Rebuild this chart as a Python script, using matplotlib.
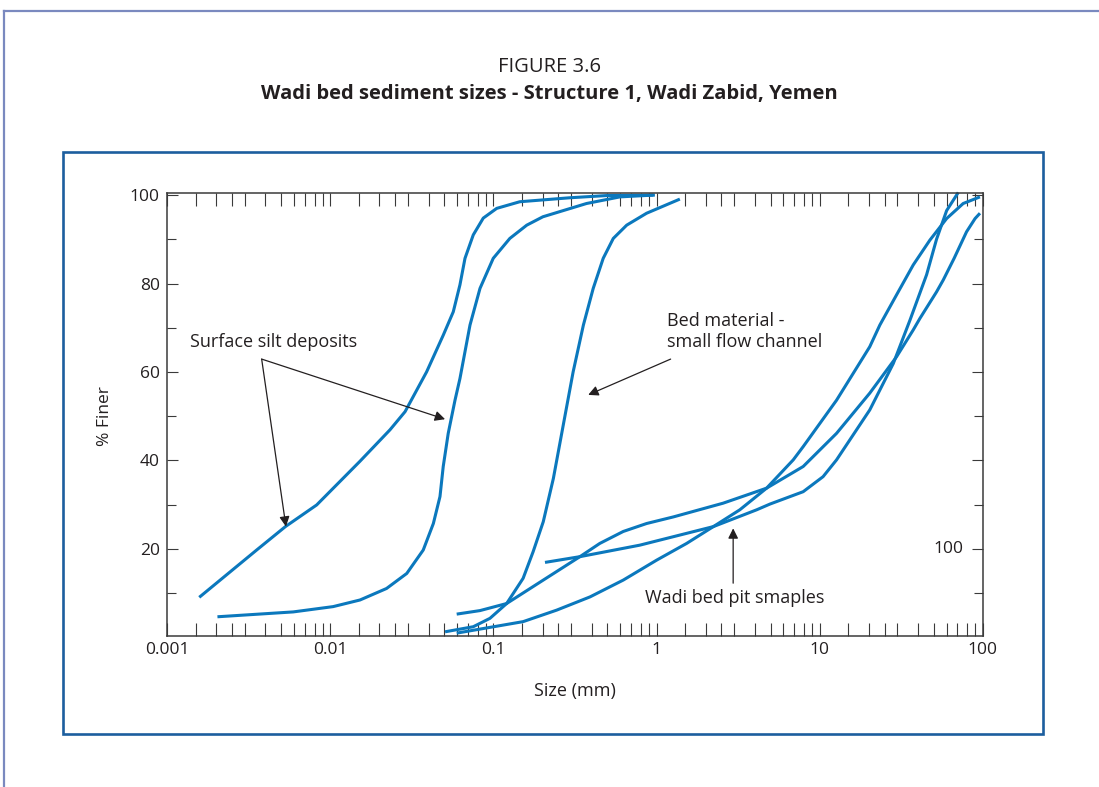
import matplotlib
matplotlib.use("Agg")
import matplotlib.pyplot as plt
from matplotlib.ticker import FixedLocator, FixedFormatter, NullFormatter
from matplotlib.lines import Line2D
from matplotlib.patches import Rectangle

plt.rcParams['font.family'] = ['Open Sans', 'DejaVu Sans']

# ---------------- data ----------------
silt_a_size = [0.00157, 0.00353, 0.0053, 0.00824, 0.0152, 0.0232, 0.0287, 0.0389, 0.0492,
               0.0567, 0.0623, 0.0669, 0.0752, 0.0866, 0.1047, 0.145, 0.294, 0.494, 0.977]
silt_a_finer = [9.0, 19.7, 25.0, 29.9, 39.8, 46.9, 51.0, 60.0, 68.3,
                73.6, 79.7, 85.7, 91.0, 94.8, 97.0, 98.5, 99.4, 99.9, 100.0]

silt_b_size = [0.00203, 0.00592, 0.0104, 0.0152, 0.0221, 0.0294, 0.0371, 0.0428,
               0.047, 0.0492, 0.0528, 0.0581, 0.0623, 0.0718, 0.0827, 0.0997,
               0.126, 0.16, 0.201, 0.372, 0.597, 0.955]
silt_b_finer = [4.6, 5.7, 6.9, 8.4, 11.0, 14.4, 19.7, 25.7,
                31.8, 38.6, 46.1, 53.6, 58.5, 70.6, 78.9, 85.7,
                90.2, 93.2, 95.1, 98.1, 99.6, 100.0]

bed_size = [0.0505, 0.0752, 0.0952, 0.1205, 0.152, 0.175, 0.202, 0.233, 0.268,
            0.308, 0.356, 0.409, 0.471, 0.543, 0.656, 0.869, 1.39]
bed_finer = [1.2, 2.35, 4.25, 7.6, 13.3, 19.3, 26.1, 35.9, 48.0,
             60.0, 70.6, 78.9, 85.7, 90.2, 93.2, 95.9, 99.1]

pit1_size = [0.0595, 0.152, 0.244, 0.391, 0.625, 1.0, 1.53, 2.23, 3.24, 4.73,
             6.89, 7.93, 12.7, 20.3, 23.4, 29.6, 37.5, 47.4, 60.1, 75.9, 96.2]
pit1_finer = [0.9, 3.5, 6.1, 9.1, 12.9, 17.4, 21.2, 25.0, 28.8, 33.7,
              40.1, 43.1, 53.6, 65.7, 70.6, 77.4, 84.2, 89.8, 94.7, 98.1, 99.6]

pit2_size = [0.0595, 0.0827, 0.1205, 0.202, 0.339, 0.449, 0.625, 0.869, 1.27,
             2.56, 4.73, 7.93, 12.7, 20.3, 29.6, 37.5, 41.2, 52.1, 57.3, 66.8,
             79.6, 89.8, 96.2]
pit2_finer = [5.2, 6.0, 7.6, 12.9, 18.2, 21.2, 23.9, 25.7, 27.2,
              30.3, 33.7, 38.6, 46.1, 55.2, 63.4, 69.5, 72.1, 78.1, 80.8, 85.7,
              91.7, 94.7, 95.9]

pit3_size = [0.207, 0.339, 0.789, 2.23, 4.11, 4.96, 7.93, 10.5, 12.7, 20.3,
             28.3, 35.8, 45.3, 52.1, 60.1, 70.8]
pit3_finer = [16.9, 18.2, 20.8, 25.0, 28.8, 30.1, 32.9, 36.3, 40.1, 51.4,
              61.9, 71.7, 82.0, 90.0, 96.5, 100.6]

x_major = [0.001, 0.01, 0.1, 1, 10, 100]
x_labels = ['0.001', '0.01', '0.1', '1', '10', '100']
x_minor_mult = [1.5, 2, 2.5, 3, 4, 5, 6, 7, 8, 9]
y_major = [20, 40, 60, 80, 100]
y_minor = [10, 30, 50, 70, 90]

# ---------------- styles ----------------
CURVE = '#0b78bd'
AXC = '#3a3a3a'
TXT = '#231f20'

fig = plt.figure(figsize=(10.99, 7.87), dpi=100)
W, H = 1099, 787

# outer frame lines (top and left)
fig.add_artist(Line2D([4 / W, 1.0], [1 - 10.7 / H, 1 - 10.7 / H], transform=fig.transFigure,
                      color='#7a89bf', lw=1.6))
fig.add_artist(Line2D([4 / W, 4 / W], [1 - 10.7 / H, 0.0], transform=fig.transFigure,
                      color='#7a89bf', lw=1.6))
# inner blue box
fig.add_artist(Rectangle((62.7 / W, 1 - 734 / H), (1043 - 62.7) / W, (734 - 152.3) / H,
                         transform=fig.transFigure, fill=False, edgecolor='#1c5e9e', lw=1.9))

fig.text(0.5, 1 - 67 / H, 'FIGURE 3.6', ha='center', va='center', fontsize=14.5, color=TXT)
fig.text(0.5, 1 - 94 / H, 'Wadi bed sediment sizes - Structure 1, Wadi Zabid, Yemen',
         ha='center', va='center', fontsize=14.5, fontweight='bold', color=TXT)

ax = fig.add_axes([167.3 / W, 1 - 636 / H, (982.7 - 167.3) / W, (636 - 193.3) / H])
ax.set_xscale('log')
ax.set_xlim(0.001, 100)
ax.set_ylim(0.25, 100.41)

for s, f in [(silt_a_size, silt_a_finer), (silt_b_size, silt_b_finer),
             (bed_size, bed_finer), (pit1_size, pit1_finer),
             (pit2_size, pit2_finer), (pit3_size, pit3_finer)]:
    ax.plot(s, f, color=CURVE, lw=2.2, solid_capstyle='butt', solid_joinstyle='round',
            clip_on=False)

for sp in ax.spines.values():
    sp.set_color(AXC)
    sp.set_linewidth(1.1)

minors = [d * m for d in [0.001, 0.01, 0.1, 1, 10] for m in x_minor_mult]
ax.xaxis.set_major_locator(FixedLocator(x_major))
ax.xaxis.set_major_formatter(FixedFormatter(x_labels))
ax.xaxis.set_minor_locator(FixedLocator(minors))
ax.xaxis.set_minor_formatter(NullFormatter())
ax.yaxis.set_major_locator(FixedLocator(y_major))
ax.yaxis.set_minor_locator(FixedLocator(y_minor))

ax.tick_params(axis='x', which='both', direction='in', top=True, bottom=True,
               length=9.4, width=0.8, color=AXC, labelsize=12.5, labelcolor=TXT, pad=4.5)
ax.tick_params(axis='y', which='major', direction='in', left=True, right=True,
               length=8, width=0.8, color=AXC, labelsize=12.5, labelcolor=TXT, pad=5.5)
ax.tick_params(axis='y', which='minor', direction='in', left=True, right=True,
               length=6.5, width=0.8, color=AXC)

ax.set_xlabel('Size (mm)', fontsize=13, color=TXT, va='center')
ax.xaxis.set_label_coords(0.5, -0.1242)
ax.set_ylabel('% Finer', fontsize=12.5, color=TXT, va='center')
ax.yaxis.set_label_coords(-0.0764, 0.497)

# stray right-side label
ax.text(76, 20, '100', ha='right', va='center', fontsize=12.5, color=TXT)

ap = dict(arrowstyle='-|>', color=TXT, lw=0.9, mutation_scale=15, shrinkA=0, shrinkB=0)
ax.text(0.00138, 66.8, 'Surface silt deposits', ha='left', va='center', fontsize=13, color=TXT)
ax.annotate('', xy=(0.0505, 49.3), xytext=(0.00379, 62.9), arrowprops=ap)
ax.annotate('', xy=(0.00534, 25.0), xytext=(0.00379, 62.9), arrowprops=ap)

ax.text(1.153, 69.1, 'Bed material -\nsmall flow channel', ha='left', va='center',
        fontsize=13, color=TXT, linespacing=1.2)
ax.annotate('', xy=(0.381, 54.8), xytext=(1.22, 62.9), arrowprops=ap)

ax.text(3.03, 8.85, 'Wadi bed pit smaples', ha='center', va='center', fontsize=13, color=TXT)
ax.annotate('', xy=(2.95, 24.6), xytext=(2.95, 12.2), arrowprops=ap)

fig.savefig('out.png', dpi=100)
